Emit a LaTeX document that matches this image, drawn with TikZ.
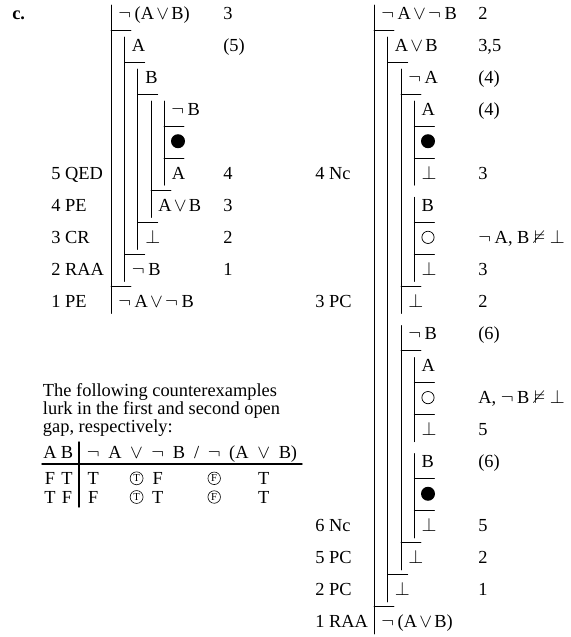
\documentclass[tikz,border=0pt]{standalone}
\usepackage{amssymb}
\usepackage{fontspec}
\setmainfont{Liberation Serif}
\newcommand{\nega}{$\neg$\hspace{0.2em}}
\newcommand{\orr}{\hspace{0.12em}$\vee$\hspace{0.12em}}
\newcommand{\falsum}{$\bot$}
\newcommand{\nent}{$\nvDash$}
\tikzset{
	fml/.style={anchor=base west, inner sep=0pt},
	rul/.style={anchor=base west, inner sep=0pt},
	cit/.style={anchor=base west, inner sep=0pt},
	tok/.style={anchor=base, inner sep=0pt},
	scopeline/.style={line width=0.7pt},
	closedgap/.style={circle, fill, inner sep=0pt, minimum size=10.5pt},
	opengap/.style={circle, draw, line width=0.55pt, inner sep=0pt, minimum size=9.2pt},
	circled/.style={circle, draw, line width=0.45pt, inner sep=0.9pt, font=\fontsize{8}{8}\selectfont}
}
\begin{document}
\begin{tikzpicture}[x=0.75pt, y=-0.75pt, line cap=round, font=\fontsize{13.8}{16}\selectfont,
	declare function={ry(\k)=13+32.05*(\k-1);}]
	\useasboundingbox (0,0) rectangle (571,637);
	\node[fml] (part) at (12, {ry(1)+6}) {\textbf{c.}};
	% first tree
	\foreach \x/\a/\b in {111/1/10, 124.7/2/9, 137.7/3/8, 151/4/7, 164/4/6}
		\draw[scopeline] (\x, {ry(\a)-8}) -- (\x, {ry(\b)+12});
	\foreach \x/\r in {111/1, 124.7/2, 137.7/3, 164/4, 164/5, 151/6, 137.7/7, 124.7/8, 111/9}
		\draw[scopeline] (\x, {ry(\r)+17}) -- ++(20, 0);
	\foreach \r/\x/\t in {1/118/{\nega(A\orr B)}, 2/131.7/A, 3/145/B, 4/171/{\nega B}, 6/171.7/A,
		7/158/{A\orr B}, 8/145/\falsum, 9/131.7/{\nega B}, 10/118/{\nega A\orr\nega B}}
		\node[fml] (lf\r) at (\x, {ry(\r)+6}) {\t};
	\node[closedgap] (lg5) at (178, {ry(5)}) {};
	\foreach \r/\t in {1/3, 2/(5), 6/4, 7/3, 8/2, 9/1}
		\node[cit] (lc\r) at (223, {ry(\r)+6}) {\t};
	\foreach \r/\t in {6/5 QED, 7/4 PE, 8/3 CR, 9/2 RAA, 10/1 PE}
		\node[rul] (lr\r) at (51, {ry(\r)+6}) {\t};
	% second tree
	\foreach \x/\a/\b in {374/1/20, 387.7/2/19, 401/3/10, 414.3/4/6, 414.3/7/9, 401/11/18, 414.3/12/14, 414.3/15/17}
		\draw[scopeline] (\x, {ry(\a)-8}) -- (\x, {ry(\b)+12});
	\foreach \x/\r in {374/1, 387.7/2, 401/3, 414.3/4, 414.3/5, 414.3/7, 414.3/8, 401/9,
		401/11, 414.3/12, 414.3/13, 414.3/15, 414.3/16, 401/17, 387.7/18, 374/19}
		\draw[scopeline] (\x, {ry(\r)+17}) -- ++(20, 0);
	\foreach \r/\x/\t in {1/381/{\nega A\orr\nega B}, 2/394.7/{A\orr B}, 3/408/{\nega A}, 4/421.3/A,
		6/421.3/\falsum, 7/421.3/B, 9/421.3/\falsum, 10/408/\falsum, 11/408/{\nega B},
		12/421.3/A, 14/421.3/\falsum, 15/421.3/B, 17/421.3/\falsum, 18/408/\falsum,
		19/394.7/\falsum, 20/381/{\nega(A\orr B)}}
		\node[fml] (rf\r) at (\x, {ry(\r)+6}) {\t};
	\foreach \r in {5, 16}
		\node[closedgap] (rg\r) at (428, {ry(\r)}) {};
	\foreach \r in {8, 13}
		\node[opengap] (rg\r) at (428, {ry(\r)}) {};
	\foreach \r/\t in {1/2, 2/{3,5}, 3/(4), 4/(4), 6/3, 8/{\nega A, B \nent\ \falsum}, 9/3, 10/2,
		11/(6), 13/{A, \nega B \nent\ \falsum}, 14/5, 15/(6), 17/5, 18/2, 19/1}
		\node[cit] (rc\r) at (478, {ry(\r)+6}) {\t};
	\foreach \r/\t in {6/4 Nc, 10/3 PC, 17/6 Nc, 18/5 PC, 19/2 PC, 20/1 RAA}
		\node[rul] (rr\r) at (315, {ry(\r)+6}) {\t};
	% counterexamples
	\node[fml] (txt1) at (42.7, 396) {The following counterexamples};
	\node[fml] (txt2) at (42.7, 414) {lurk in the first and second open};
	\node[fml] (txt3) at (42.7, 432) {gap, respectively:};
	\foreach \x/\t in {50/A, 67/B, 93.2/{$\neg$}, 114.9/A, 136.6/{$\vee$}, 157.8/{$\neg$}, 179/B,
		196.6/{/}, 214.2/{$\neg$}, 232.3/(, 242/A, 263.7/{$\vee$}, 284.9/B, 294/)}
		\node[tok] (h\x) at (\x, 458) {\t};
	\foreach \x/\t in {50/F, 67/T, 93.2/T, 157.8/F, 263.7/T}
		\node[tok] (p\x) at (\x, 484.3) {\t};
	\foreach \x/\t in {50/T, 67/F, 93.2/F, 157.8/T, 263.7/T}
		\node[tok] (q\x) at (\x, 503) {\t};
	\foreach \x/\t in {136.6/T, 214.2/F} {
		\node[circled] (pc\x) at (\x, 478.3) {\t};
		\node[circled] (qc\x) at (\x, 497) {\t};
	}
	\draw[line width=1.1pt] (79, 442) -- (79, 507);
	\draw[line width=1.1pt] (42, 464) -- (302, 464);
\end{tikzpicture}
\end{document}
